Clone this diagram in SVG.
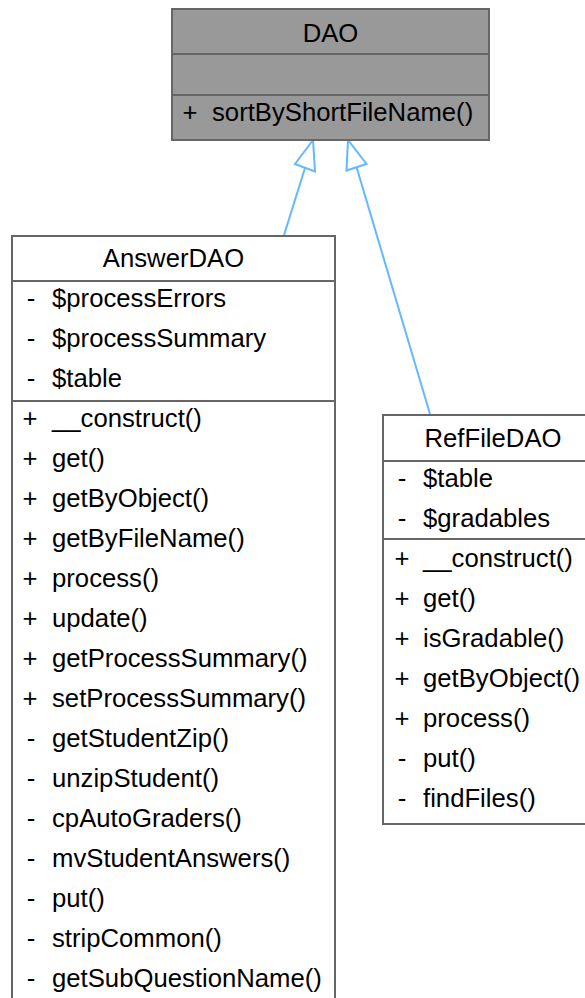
<svg xmlns="http://www.w3.org/2000/svg" width="585" height="998" viewBox="0 0 585 998">
  <defs>
    <style>
      text { font-family: "Liberation Sans", Arial, Helvetica, sans-serif; font-size: 25.7px; fill: #000000; }
      .title { text-anchor: middle; }
      .vis { text-anchor: middle; }
      .box { fill: #ffffff; stroke: #666666; stroke-width: 2; }
      .base { fill: #999999; stroke: #666666; stroke-width: 2; }
      .sep { stroke: #666666; stroke-width: 2; fill: none; }
      .edge { stroke: #63b8ff; stroke-width: 2; fill: none; }
      .head { stroke: #63b8ff; stroke-width: 2; fill: #ffffff; }
    </style>
  </defs>

  <!-- inheritance edges -->
  <g id="edges">
    <path class="edge" d="M284,235 L305,168"/>
    <polygon class="head" points="313,140 295,164 315,171.5"/>
    <path class="edge" d="M430,414 L356.5,167"/>
    <polygon class="head" points="348,140 346.5,170.5 366.5,164"/>
  </g>

  <!-- DAO base class -->
  <g id="node-DAO">
    <rect class="base" x="172" y="9" width="317" height="131"/>
    <line class="sep" x1="172" y1="54" x2="489" y2="54"/>
    <line class="sep" x1="172" y1="95" x2="489" y2="95"/>
    <text class="title" x="330.5" y="42">DAO</text>
    <text class="vis" x="190" y="121">+</text>
    <text x="212" y="121">sortByShortFileName()</text>
  </g>

  <!-- AnswerDAO -->
  <g id="node-AnswerDAO">
    <rect class="box" x="12" y="236" width="323" height="780"/>
    <line class="sep" x1="12" y1="281" x2="335" y2="281"/>
    <line class="sep" x1="12" y1="401" x2="335" y2="401"/>
    <text class="title" x="173.5" y="267">AnswerDAO</text>
    <text class="vis" x="31" y="307">-</text><text x="52" y="307">$processErrors</text>
    <text class="vis" x="31" y="347">-</text><text x="52" y="347">$processSummary</text>
    <text class="vis" x="31" y="387">-</text><text x="52" y="387">$table</text>
    <text class="vis" x="30" y="427">+</text><text x="52" y="427">__construct()</text>
    <text class="vis" x="30" y="467">+</text><text x="52" y="467">get()</text>
    <text class="vis" x="30" y="507">+</text><text x="52" y="507">getByObject()</text>
    <text class="vis" x="30" y="547">+</text><text x="52" y="547">getByFileName()</text>
    <text class="vis" x="30" y="587">+</text><text x="52" y="587">process()</text>
    <text class="vis" x="30" y="627">+</text><text x="52" y="627">update()</text>
    <text class="vis" x="30" y="667">+</text><text x="52" y="667">getProcessSummary()</text>
    <text class="vis" x="30" y="707">+</text><text x="52" y="707">setProcessSummary()</text>
    <text class="vis" x="31" y="747">-</text><text x="52" y="747">getStudentZip()</text>
    <text class="vis" x="31" y="787">-</text><text x="52" y="787">unzipStudent()</text>
    <text class="vis" x="31" y="827">-</text><text x="52" y="827">cpAutoGraders()</text>
    <text class="vis" x="31" y="867">-</text><text x="52" y="867">mvStudentAnswers()</text>
    <text class="vis" x="31" y="907">-</text><text x="52" y="907">put()</text>
    <text class="vis" x="31" y="947">-</text><text x="52" y="947">stripCommon()</text>
    <text class="vis" x="31" y="987">-</text><text x="52" y="987">getSubQuestionName()</text>
  </g>

  <!-- RefFileDAO -->
  <g id="node-RefFileDAO">
    <rect class="box" x="383" y="415" width="220" height="409"/>
    <line class="sep" x1="383" y1="461" x2="603" y2="461"/>
    <line class="sep" x1="383" y1="539" x2="603" y2="539"/>
    <text class="title" x="493" y="447">RefFileDAO</text>
    <text class="vis" x="402" y="487">-</text><text x="423" y="487">$table</text>
    <text class="vis" x="402" y="527">-</text><text x="423" y="527">$gradables</text>
    <text class="vis" x="402" y="567">+</text><text x="423" y="567">__construct()</text>
    <text class="vis" x="402" y="607">+</text><text x="423" y="607">get()</text>
    <text class="vis" x="402" y="647">+</text><text x="423" y="647">isGradable()</text>
    <text class="vis" x="402" y="687">+</text><text x="423" y="687">getByObject()</text>
    <text class="vis" x="402" y="727">+</text><text x="423" y="727">process()</text>
    <text class="vis" x="402" y="767">-</text><text x="423" y="767">put()</text>
    <text class="vis" x="402" y="807">-</text><text x="423" y="807">findFiles()</text>
  </g>
</svg>
